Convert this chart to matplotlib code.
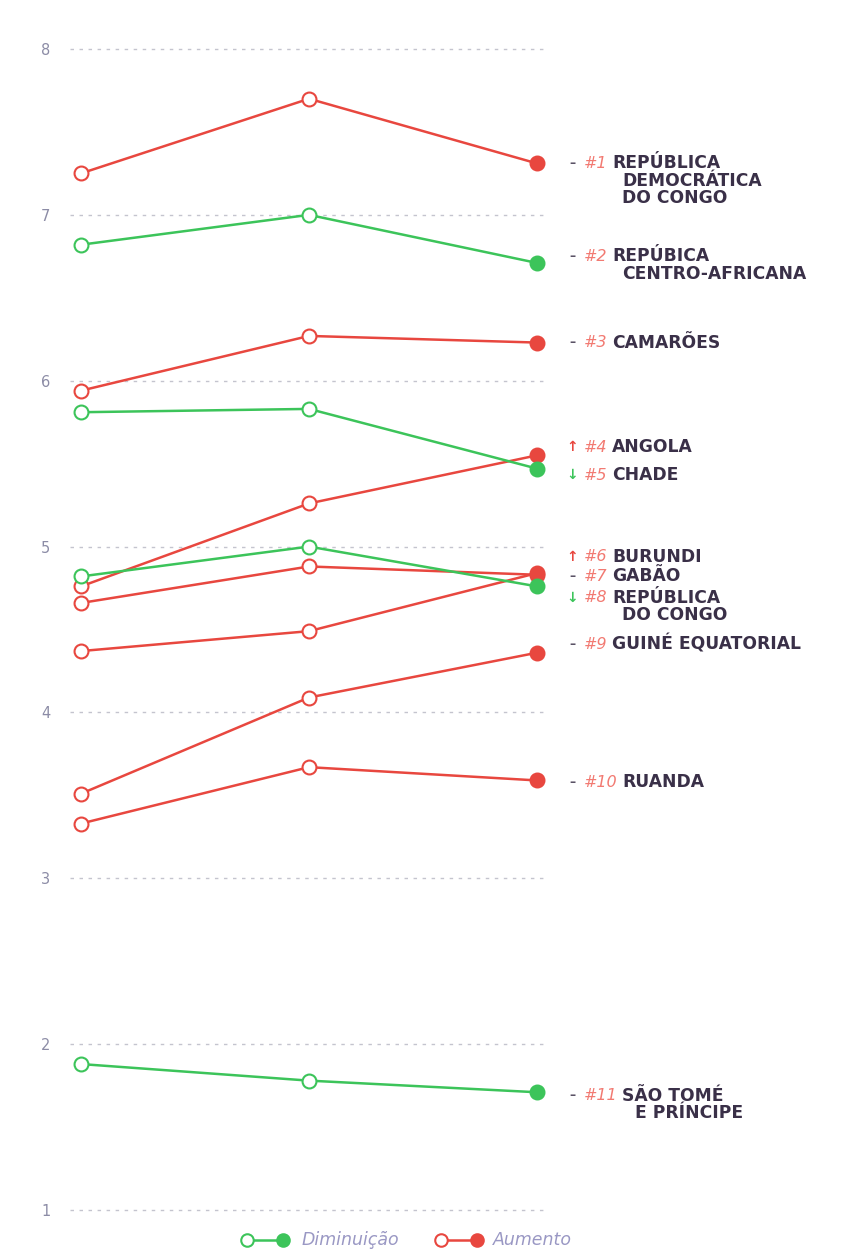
import matplotlib.pyplot as plt
from matplotlib.lines import Line2D

# Data
years = [0, 1, 2]
drc = [7.25, 7.70, 7.31]
car = [6.82, 7.00, 6.71]
cameroon = [5.94, 6.27, 6.23]
angola = [4.76, 5.26, 5.55]
chad = [5.81, 5.83, 5.47]
burundi = [4.37, 4.49, 4.84]
gabon = [4.66, 4.88, 4.83]
congo = [4.82, 5.00, 4.76]
eq_guinea = [3.51, 4.09, 4.36]
rwanda = [3.33, 3.67, 3.59]
stp = [1.88, 1.78, 1.71]

series = [drc, car, cameroon, angola, chad, burundi, gabon, congo,
          eq_guinea, rwanda, stp]
trend = ['up', 'down', 'up', 'up', 'down', 'up', 'up', 'down', 'up', 'up', 'down']
ranks = ['#1', '#2', '#3', '#4', '#5', '#6', '#7', '#8', '#9', '#10', '#11']
names = [['REPÚBLICA', 'DEMOCRÁTICA', 'DO CONGO'],
         ['REPÚBICA', 'CENTRO-AFRICANA'],
         ['CAMARÕES'],
         ['ANGOLA'],
         ['CHADE'],
         ['BURUNDI'],
         ['GABÃO'],
         ['REPÚBLICA', 'DO CONGO'],
         ['GUINÉ EQUATORIAL'],
         ['RUANDA'],
         ['SÃO TOMÉ', 'E PRÍNCIPE']]
moves = ['-', '-', '-', 'up', 'down', 'up', '-', 'down', '-', '-', '-']
label_y = [7.31, 6.75, 6.23, 5.60, 5.43, 4.94, 4.82, 4.69, 4.41, 3.58, 1.69]

RED = '#e8473f'
GREEN = '#3cc45a'
DARK = '#3a3048'
SALMON = '#f27a72'
colors = {'up': RED, 'down': GREEN}

fig = plt.figure(figsize=(8.53, 12.5), dpi=100)
ax = fig.add_axes([70 / 853, 1 - 1218.3 / 1250, 475 / 853, 1177.6 / 1250])

for vals, t in zip(series, trend):
    c = colors[t]
    ax.plot(years, vals, color=c, lw=1.8, zorder=2)
    ax.plot(years[:2], vals[:2], ls='none', marker='o', ms=10, mfc='white',
            mec=c, mew=1.5, zorder=3)
    ax.plot(years[2:], vals[2:], ls='none', marker='o', ms=10, mfc=c,
            mec=c, mew=1.5, zorder=3)

ax.set_xlim(-11 / 228, 2 + 8 / 228)
ax.set_ylim(0.95, 8.05)
ax.set_yticks(range(1, 9))
ax.set_xticks([])
ax.yaxis.grid(True, ls=(0, (2.5, 4)), color='#c4c4ce', lw=1)
ax.tick_params(axis='y', length=0, labelsize=10.5, labelcolor='#8c8ca6', pad=14)
for s in ax.spines.values():
    s.set_visible(False)

# labels on the right
px = lambda p: (p - 81) / 228
line_h = 0.105
for y, r, nm, mv in zip(label_y, ranks, names, moves):
    if mv == 'up':
        ax.text(px(572), y, '↑', color=RED, fontsize=10, fontweight='bold',
                ha='center', va='center', clip_on=False)
    elif mv == 'down':
        ax.text(px(572), y, '↓', color=GREEN, fontsize=10, fontweight='bold',
                ha='center', va='center', clip_on=False)
    else:
        ax.text(px(572), y, '–', color='#5a5266', fontsize=9, fontweight='bold',
                ha='center', va='center', clip_on=False)
    ax.text(px(584), y, r, color=SALMON, fontsize=11.5, style='italic',
            ha='left', va='center', clip_on=False)
    x0 = 612 if len(r) == 2 else 622
    for i, line in enumerate(nm):
        xi = x0 if i == 0 else x0 + (13 if len(r) == 3 else 10)
        ax.text(px(xi), y - i * line_h, line, color=DARK, fontsize=12.3,
                fontweight='bold', ha='left', va='center', clip_on=False)

# legend
def fig_pt(x, y):
    return x / 853, 1 - y / 1250

for (xa, xb, xt, c, lab) in [(247, 283, 302, GREEN, 'Diminuição'),
                             (441, 477, 493, RED, 'Aumento')]:
    (a, yy), (b, _) = fig_pt(xa, 1240), fig_pt(xb, 1240)
    fig.add_artist(Line2D([a, b], [yy, yy], color=c, lw=1.8,
                          transform=fig.transFigure))
    fig.add_artist(Line2D([a], [yy], marker='o', ms=9, mfc='white', mec=c,
                          mew=1.5, transform=fig.transFigure))
    fig.add_artist(Line2D([b], [yy], marker='o', ms=9, mfc=c, mec=c,
                          mew=1.5, transform=fig.transFigure))
    fig.text(*fig_pt(xt, 1240), lab, color='#9a98c4', fontsize=12.5,
             style='italic', ha='left', va='center')

fig.savefig('out.png', dpi=100)
